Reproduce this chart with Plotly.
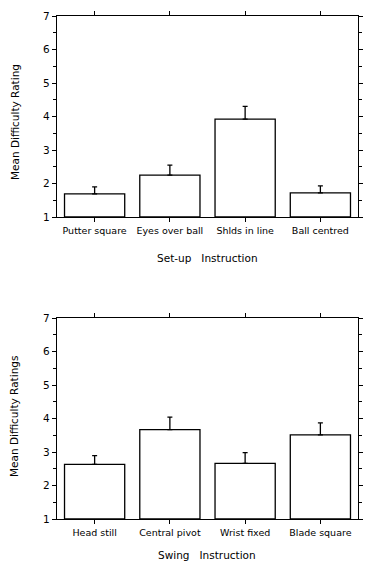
import plotly.graph_objects as go

setup_cats = ["Putter square", "Eyes over ball", "Shlds in line", "Ball centred"]
setup_means = [1.69, 2.25, 3.92, 1.72]
setup_err = [0.21, 0.30, 0.38, 0.21]

swing_cats = ["Head still", "Central pivot", "Wrist fixed", "Blade square"]
swing_means = [2.63, 3.67, 2.66, 3.51]
swing_err = [0.26, 0.37, 0.32, 0.36]

y_ticks = [1, 2, 3, 4, 5, 6, 7]

FONT = "DejaVu Sans"
W, H = 369, 562
ML, MR, MT, MB = 57, 11, 16, 43
PH = H - MT - MB

def py(pix):
    return (H - MB - pix) / PH

def px(pix):
    return (pix - ML) / (W - ML - MR)

fig = go.Figure()

for i, (cats, means, errs) in enumerate([(setup_cats, setup_means, setup_err),
                                          (swing_cats, swing_means, swing_err)]):
    xa = "x" if i == 0 else "x2"
    ya = "y" if i == 0 else "y2"
    fig.add_trace(go.Bar(
        x=list(range(len(cats))), y=[m - 1 for m in means], base=1,
        xaxis=xa, yaxis=ya, width=0.8,
        marker=dict(color="white", line=dict(color="black", width=1.3)),
        error_y=dict(type="data", array=errs, arrayminus=[0] * len(errs),
                     symmetric=False, color="black", thickness=1.3, width=2.5),
        showlegend=False,
    ))

common_x = dict(range=[-0.5, 3.5], showline=True, linecolor="black", linewidth=1.3,
                ticks="outside", ticklen=4, tickcolor="black", mirror="allticks",
                tickmode="array", tickvals=[0, 1, 2, 3], automargin=False,
                tickfont=dict(family=FONT, size=9.5, color="black"), showgrid=False,
                zeroline=False)
common_y = dict(range=[1, 7], showline=True, linecolor="black", linewidth=1.3,
                ticks="outside", ticklen=4, tickcolor="black", mirror="ticks",
                tickmode="array", tickvals=y_ticks, automargin=False,
                minor=dict(ticks="outside", ticklen=2.5, tickcolor="black", dtick=0.5, showgrid=False),
                tickfont=dict(family=FONT, size=10.5, color="black"), showgrid=False,
                zeroline=False)

top_dom = [py(217), py(16)]
bot_dom = [py(519), py(318)]

fig.update_layout(
    width=W, height=H,
    margin=dict(l=ML, r=MR, t=MT, b=MB, autoexpand=False),
    paper_bgcolor="white", plot_bgcolor="white",
    bargap=0.2,
    xaxis=dict(**common_x, domain=[0, 1], anchor="y", ticktext=setup_cats),
    yaxis=dict(**common_y, domain=top_dom, anchor="x"),
    xaxis2=dict(**common_x, domain=[0, 1], anchor="y2", ticktext=swing_cats),
    yaxis2=dict(**common_y, domain=bot_dom, anchor="x2"),
)

annots = [
    dict(text="Set-up\u00a0\u00a0 Instruction", x=px(207), y=py(258)),
    dict(text="Swing\u00a0\u00a0 Instruction", x=px(207), y=py(555)),
    dict(text="Mean Difficulty Rating", x=px(15), y=py(122), textangle=-90),
    dict(text="Mean Difficulty Ratings", x=px(14), y=py(417), textangle=-90),
]
for a in annots:
    fig.add_annotation(xref="paper", yref="paper", showarrow=False,
                       xanchor="center", yanchor="middle",
                       font=dict(family=FONT, size=10.5, color="black"), **a)

fig.write_html("out.html")
